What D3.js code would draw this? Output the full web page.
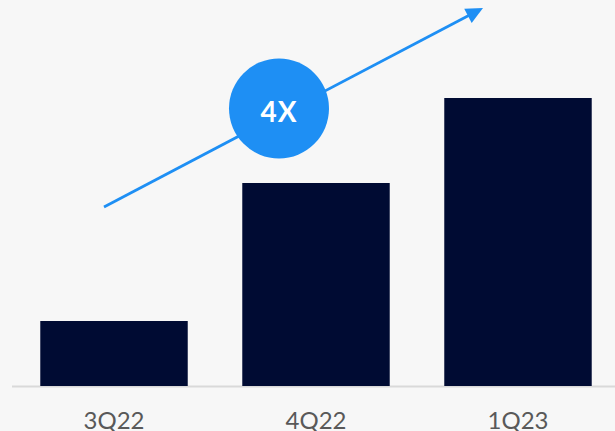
<!DOCTYPE html>
<html><head><meta charset="utf-8">
<script src="https://cdn.jsdelivr.net/npm/d3@7"></script>
<style>html,body{margin:0;padding:0;background:#f7f7f7;overflow:hidden}</style>
</head><body>
<svg id="c" width="615" height="431"></svg>
<script>
const categories = ["3Q22", "4Q22", "1Q23"];
const values = [65, 203, 288];
const growthLabel = "4X";

const W = 615, H = 431;
const svg = d3.select("#c");
svg.append("rect").attr("width", W).attr("height", H).attr("fill", "#f7f7f7");

const x = d3.scaleBand().domain(categories).range([12, 620]).paddingInner(0.27).paddingOuter(0.14);
const y = d3.scaleLinear().domain([0, 300]).range([386, 86]);

svg.append("line").attr("x1", 12).attr("x2", 615).attr("y1", 386.5).attr("y2", 386.5)
  .attr("stroke", "#d9d9d9").attr("stroke-width", 2);

svg.selectAll("rect.bar").data(values).join("rect").attr("class", "bar")
  .attr("x", (d, i) => x(categories[i]))
  .attr("width", x.bandwidth())
  .attr("y", d => y(d))
  .attr("height", d => y(0) - y(d))
  .attr("fill", "#000b33");

const xAxis = d3.axisBottom(x).tickSize(0).tickPadding(0);
const ax = svg.append("g").attr("transform", "translate(0,412)").call(xAxis);
ax.select(".domain").remove();
ax.selectAll("text").attr("dy", "0.70em").attr("font-family", "Lato, 'Open Sans', sans-serif")
  .attr("font-size", 24).attr("fill", "#595959");

// Arrow annotation
const start = [104, 207], tip = [483, 8];
const ang = Math.atan2(tip[1] - start[1], tip[0] - start[0]);
const ux = Math.cos(ang), uy = Math.sin(ang);
const headLen = 17, headHalf = 8;
const base = [tip[0] - ux * headLen, tip[1] - uy * headLen];
svg.append("line").attr("x1", start[0]).attr("y1", start[1])
  .attr("x2", base[0] + ux * 3).attr("y2", base[1] + uy * 3)
  .attr("stroke", "#1e8ff4").attr("stroke-width", 2.8);
svg.append("path")
  .attr("d", `M${tip[0]},${tip[1]} L${base[0] - uy * headHalf},${base[1] + ux * headHalf} L${base[0] + uy * headHalf},${base[1] - ux * headHalf} Z`)
  .attr("fill", "#1e8ff4");

svg.append("circle").attr("cx", 279).attr("cy", 108.5).attr("r", 50).attr("fill", "#1e8ff4");
svg.append("text").attr("x", 279).attr("y", 122).attr("text-anchor", "middle")
  .attr("font-family", "Lato, 'Open Sans', sans-serif").attr("font-weight", 700)
  .attr("font-size", 28).attr("fill", "#ffffff").attr("letter-spacing", 1).text(growthLabel);
</script>
</body></html>
